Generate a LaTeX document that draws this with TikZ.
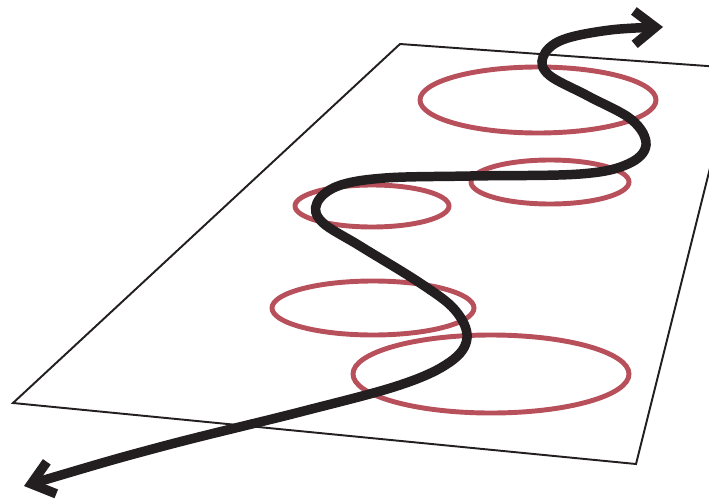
\documentclass[tikz,border=0pt]{standalone}
\usepackage{tikz}
\usetikzlibrary{arrows.meta}
\definecolor{ringred}{RGB}{183,80,90}
\definecolor{pathblack}{RGB}{35,31,32}

\begin{document}
\begin{tikzpicture}[x=0.02cm,y=-0.02cm]
        % 定义线宽
        \newcommand{\planewidth}{1.1pt}
        \newcommand{\ringwidth}{2.8pt}
        \newcommand{\curvewidth}{5.4pt}

        \useasboundingbox (0,0) rectangle (709,500);
        \clip (0,0) rectangle (709,500);

        % 平面（右上角在画面之外）
        \draw[pathblack,line width=\planewidth] (13,403) -- (400,44) -- (735,68) -- (636,464) -- cycle;

        % 五个椭圆
        \draw[ringred,line width=\ringwidth] (538,100) ellipse [x radius=118, y radius=33];
        \draw[ringred,line width=\ringwidth] (550,182) ellipse [x radius=79, y radius=22];
        \draw[ringred,line width=\ringwidth] (372,206) ellipse [x radius=77, y radius=21];
        \draw[ringred,line width=\ringwidth] (373,308) ellipse [x radius=101, y radius=27];
        \draw[ringred,line width=\ringwidth] (491,374) ellipse [x radius=138, y radius=39];

        % 曲线（两端箭头）
        \draw[pathblack,line width=\curvewidth,
              {Straight Barb[length=12pt,width=19pt]}-{Straight Barb[length=12pt,width=19pt]}]
          plot[smooth,tension=0.6] coordinates {
            (24,486) (160,447) (300,412) (400,385) (450,362) (467,338)
            (455,310) (420,283) (360,246) (322,222) (317,203) (338,186)
            (385,178) (470,176) (580,174) (628,164) (646,145) (632,120)
            (588,96) (549,75) (543,57) (562,40) (610,30) (663,27)};
\end{tikzpicture}
\end{document}
